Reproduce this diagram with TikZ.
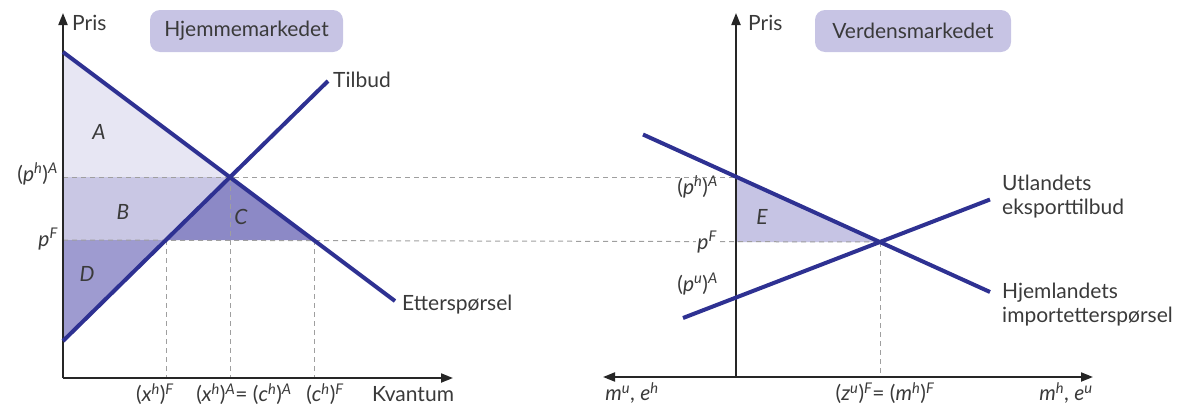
\documentclass[tikz,border=0pt]{standalone}
\usepackage{fontspec}
\setmainfont{Lato}
\usetikzlibrary{arrows.meta}
\definecolor{navy}{HTML}{2E3192}
\definecolor{txt}{HTML}{3A3A3A}
\definecolor{fillA}{HTML}{E7E6F3}
\definecolor{fillB}{HTML}{C9C7E4}
\definecolor{fillC}{HTML}{8C89C6}
\definecolor{fillD}{HTML}{9E9BD0}
\definecolor{fillE}{HTML}{C6C4E4}
\definecolor{boxfill}{HTML}{C7C4E4}
\newcommand\supit[1]{\textsuperscript{\itshape #1}}
\begin{document}
\begin{tikzpicture}[x=1pt,y=-1pt,
  every node/.style={text=txt,font=\fontsize{21}{24}\selectfont,inner sep=0pt},
  curve/.style={navy,line width=4pt},
  axis/.style={black!85,line width=2pt,-{Triangle[length=12pt,width=9pt]}},
  guide/.style={gray!75,line width=1pt,dash pattern=on 5pt off 4pt},
  title/.style={fill=boxfill,rounded corners=10pt,minimum width=193pt,minimum height=42pt},
  lab/.style={},
  region/.style={}]
\useasboundingbox (0,0) rectangle (1180,407);
% ---------- left panel coordinates
\coordinate (O1) at (63,378);
\coordinate (Y1) at (63,13);
\coordinate (X1) at (453,378);
\coordinate (Ds) at (63,52);
\coordinate (De) at (395,301);
\coordinate (Ss) at (63,341);
\coordinate (Se) at (328,81);
\coordinate (Eq) at (230,177);
\coordinate (pA1) at (63,177);
\coordinate (pF1) at (63,240);
\coordinate (xF) at (166,240);
\coordinate (cF) at (314,240);
\coordinate (xFb) at (166,378);
\coordinate (xAb) at (230,378);
\coordinate (cFb) at (314,378);
% ---------- right panel coordinates
\coordinate (O2) at (736,377);
\coordinate (Y2) at (736,13);
\coordinate (XL) at (603,377);
\coordinate (XR) at (1093,377);
\coordinate (IDs) at (643,134.5);
\coordinate (IDe) at (990,292);
\coordinate (ESs) at (683,318);
\coordinate (ESe) at (990,199.5);
\coordinate (F2) at (880,242);
\coordinate (pA2) at (736,177);
\coordinate (pF2) at (736,242);
\coordinate (F2b) at (880,377);
% ---------- filled regions
\fill[fillA] (Ds) -- (Eq) -- (pA1) -- cycle;
\fill[fillB] (pA1) -- (Eq) -- (xF) -- (pF1) -- cycle;
\fill[fillC] (Eq) -- (cF) -- (xF) -- cycle;
\fill[fillD] (pF1) -- (xF) -- (Ss) -- cycle;
\fill[fillE] (pA2) -- (F2) -- (pF2) -- cycle;
% ---------- guides
\draw[guide] (pA1) -- (pA2);
\draw[guide] (pF1) -- (F2);
\draw[guide] (xF) -- (xFb);
\draw[guide] (Eq) -- (xAb);
\draw[guide] (cF) -- (cFb);
\draw[guide] (F2) -- (F2b);
% ---------- axes
\draw[axis] (O1) -- (Y1);
\draw[axis] (O1) -- (X1);
\draw[axis] (O2) -- (Y2);
\draw[axis] (O2) -- (XR);
\draw[axis] (O2) -- (XL);
% ---------- curves
\draw[curve] (Ds) -- (De);
\draw[curve] (Ss) -- (Se);
\draw[curve] (IDs) -- (IDe);
\draw[curve] (ESs) -- (ESe);
% ---------- titles
\node[title] (hjem) at (246.5,31) {Hjemmemarkedet};
\node[title,minimum width=196pt] (verd) at (913,31) {Verdensmarkedet};
\node[anchor=west] (pris1) at (72,23) {Pris};
\node[anchor=west] (pris2) at (748,23) {Pris};
% ---------- left labels
\node[anchor=east] (lpA) at (58,174) {(\textit{p}\supit{h})\supit{A}};
\node[anchor=east] (lpF) at (58,239) {\textit{p}\supit{F}};
\node (lA) at (99,132) {\textit{A}};
\node (lB) at (123,212) {\textit{B}};
\node (lC) at (241,217) {\textit{C}};
\node (lD) at (87,274) {\textit{D}};
\node[anchor=west] (tilbud) at (333,80) {Tilbud};
\node[anchor=west] (ettersp) at (402,305) {Etterspørsel};
\node (lxF) at (155,394) {(\textit{x}\supit{h})\supit{F}};
\node (lxA) at (244,394) {(\textit{x}\supit{h})\supit{A}= (\textit{c}\supit{h})\supit{A}};
\node (lcF) at (325,394) {(\textit{c}\supit{h})\supit{F}};
\node (kvant) at (413,394) {Kvantum};
% ---------- right labels
\node[anchor=east] (rpA) at (718,187) {(\textit{p}\supit{h})\supit{A}};
\node[anchor=east,fill=white,inner sep=1pt] (rpF) at (718,242) {\textit{p}\supit{F}};
\node[anchor=east] (rpuA) at (718,284) {(\textit{p}\supit{u})\supit{A}};
\node (lE) at (762,217) {\textit{E}};
\node[anchor=west,align=left] (utl) at (1002,197) {Utlandets\\eksporttilbud};
\node[anchor=west,align=left] (hjl) at (1002,305) {Hjemlandets\\importetterspørsel};
\node (lmu) at (632,393) {\textit{m}\supit{u}, \textit{e}\supit{h}};
\node (lzu) at (885,393) {(\textit{z}\supit{u})\supit{F}= (\textit{m}\supit{h})\supit{F}};
\node (lmh) at (1066,393) {\textit{m}\supit{h}, \textit{e}\supit{u}};
\end{tikzpicture}
\end{document}
